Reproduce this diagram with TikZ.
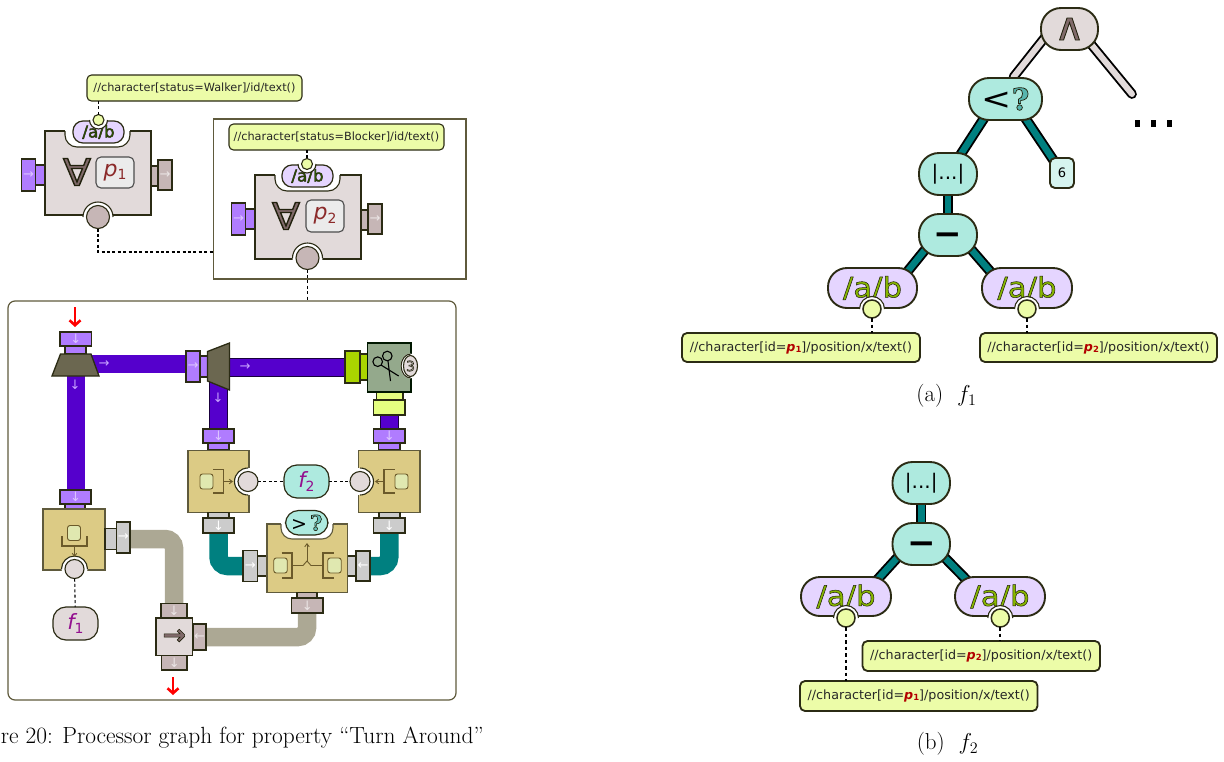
\RequirePackage{fix-cm}
\documentclass[tikz,border=0pt]{standalone}
\usepackage{fontspec}
\usepackage{graphicx}
\usetikzlibrary{calc,backgrounds,arrows.meta,shapes.geometric}
\newfontfamily\dv{DejaVu Sans}
\newfontfamily\dvserif{DejaVu Serif}
\definecolor{cedge}{HTML}{2B2B14}
\definecolor{cframe}{HTML}{5F5A3C}
\definecolor{cgray}{HTML}{E2DADA}
\definecolor{cbrown}{HTML}{C6B6B6}
\definecolor{cport}{HTML}{B07CFF}
\definecolor{cpipe}{HTML}{5500CC}
\definecolor{cteal}{HTML}{008080}
\definecolor{ctaupe}{HTML}{ACA894}
\definecolor{ctan}{HTML}{DCCB85}
\definecolor{csil}{HTML}{CCCCCC}
\definecolor{cpill}{HTML}{AEEADF}
\definecolor{clav}{HTML}{E5D5FF}
\definecolor{cyel}{HTML}{ECFCA8}
\definecolor{cyel2}{HTML}{E5FF80}
\definecolor{clime}{HTML}{AAD400}
\definecolor{csage}{HTML}{94A98C}
\definecolor{ctrap}{HTML}{6B6750}
\definecolor{cbr}{HTML}{6B5A2A}
\definecolor{cfn}{HTML}{93108F}
\definecolor{cpv}{HTML}{8B2A2A}
\definecolor{cbrd}{HTML}{806A6A}
\definecolor{cab}{HTML}{88B800}
\definecolor{cabs}{HTML}{2F5F00}
\definecolor{cqq}{HTML}{E0E8B0}
\newcommand{\fsz}[1]{\fontsize{#1}{#1}\selectfont}
\newcommand{\outl}[3]{{\color{#2}\special{pdf:code 2 Tr #3 w 0.13 0.13 0.05 RG}#1\special{pdf:code 0 Tr}}}
\newcommand{\rn}[7][]{\node[rectn,#1,minimum width={(#5)-(#3)},minimum height={(#6)-(#4)}] (#2) at ({(#3+#5)/2},{(#4+#6)/2}) {#7};}
\newcommand{\halo}[5]{\fill[white] (#1,#2) circle (#3+3.5);\draw[edgeline] ($(#1,#2)+(#4:#3+3.5)$) arc (#4:#5:#3+3.5);}
\newcommand{\pv}[1]{{\bfseries\itshape\color{red!70!black}p\raisebox{-0.2ex}{\fsz{8.5}\upshape#1}}}
\newcommand{\sab}{\scalebox{1.05}[1]{\outl{\dv\fsz{16}/a/b}{cabs}{0.4}}}
\newcommand{\bab}{\scalebox{1.1}[1]{\outl{\dv\fsz{28}/a/b}{cab}{0.5}}}
\newcommand{\fa}{\scalebox{1.1}[1]{\outl{∀}{cbrd}{1.3}}}
\newcommand{\minusglyph}{\raisebox{-10.6pt}[0pt][0pt]{\dv\bfseries\fsz{34}−}}
\tikzset{
 rectn/.style={rectangle,inner sep=0pt,outer sep=0pt,draw=cedge,line width=1.1pt,font=\dv},
 edgeline/.style={draw=cedge,line width=1.1pt},
 gport/.style={fill=cgray},
 pport/.style={fill=cport,text=cport!45!white,font=\dv\fsz{13}},
 bport/.style={fill=cbrown,text=cbrown!35!white,font=\dv\fsz{13}},
 sport/.style={fill=csil,text=white,font=\dv\fsz{13}},
 lport/.style={fill=clime,text=white,font=\dv\fsz{13}},
 yport/.style={fill=cyel2},
 tanbox/.style={fill=ctan,draw=cframe},
 grayb/.style={fill=cgray},
 xq/.style={fill=cyel,rounded corners=4.5pt,line width=1.1pt,font=\dv\fsz{11.3},text=black!85},
 xqb/.style={fill=cyel,rounded corners=5pt,line width=1.8pt,font=\dv\fsz{12.7},text=black!85},
 pill/.style={fill=cpill,rounded corners=13pt,line width=1.2pt},
 bigpill/.style={fill=cpill,rounded corners=20pt,line width=1.9pt},
 lavpill/.style={fill=clav,rounded corners=10pt,line width=1.2pt},
 lavbig/.style={fill=clav,rounded corners=19pt,line width=1.9pt},
 dashl/.style={draw=black,line width=1.05pt,dash pattern=on 3pt off 2.4pt},
 dashb/.style={draw=black,line width=1.7pt,dash pattern=on 3.5pt off 3pt},
 pipep/.style={draw=cpipe,line width=18pt},
 piped/.style={draw=black!70!cpipe,line width=1pt,double=cpipe,double distance=17pt},
 pipet/.style={draw=cteal,line width=18.5pt,rounded corners=9pt},
 pipeg/.style={draw=ctaupe,line width=18.5pt,rounded corners=9pt},
 tedge/.style={draw=black,line width=1.9pt,double=cteal,double distance=6.5pt},
 gedge/.style={draw=black,line width=1.9pt,double=cgray,double distance=6pt,line cap=round},
 sym/.style={draw=cbr,line width=1.5pt},
 syma/.style={draw=cbr,line width=.9pt,-{Straight Barb[length=3pt,width=4.5pt]}},
 symq/.style={rectn,fill=cqq,draw=cbr,rounded corners=2.5pt,line width=.9pt},
 red arr/.style={draw=red,line width=2.6pt,-{Straight Barb[length=5pt,width=11pt]}},
 parrow/.style={font=\dv\fsz{13},inner sep=0pt,text=cport!70!white},
}
\begin{document}
\begin{tikzpicture}[x=1pt,y=-1pt]
\useasboundingbox (0,0) rectangle (1224,761);
% frames
\rn[draw=cframe,line width=1.2pt]{framea}{213.5}{119}{466}{279}{}
\rn[draw=cframe,line width=1.2pt,rounded corners=7pt]{frameb}{8}{301}{456}{700}{}
% ---------- processor p1
\rn[gport,fill=cport]{pa1}{35.5}{165}{45}{185}{}
\rn[pport]{pa2}{21.5}{159}{35.5}{191}{→}
\rn[bport]{pa3}{151}{166}{158}{186}{}
\rn[bport]{pa4}{158}{160}{172}{190}{→}
\rn[grayb]{pbox}{45}{131}{151}{215}{}
\fill[white,rounded corners=12pt] (65,125) rectangle (130,147);
\fill[white] (65,125) rectangle (130,133);
\draw[edgeline,rounded corners=12pt] (65,131) -- (65,147) -- (130,147) -- (130,131);
\rn[lavpill]{xa}{73}{121}{124}{143}{\sab}
\halo{98.5}{120}{5.5}{0}{180}
\node[rectn,circle,fill=cyel,minimum size=11pt] (xac) at (98.5,120) {};
\halo{98}{217}{11.5}{180}{360}
\node[rectn,circle,fill=cbrown,minimum size=23pt] (pac) at (98,217) {};
\node[font=\dv\fsz{37},inner sep=0pt] (alla) at (77,172) {\fa};
\rn[fill=white!92!black,draw=black!70,rounded corners=5pt]{pa}{96}{157}{134}{188}{\color{cpv}\dv\fsz{22}\itshape p\raisebox{-0.3ex}{\fsz{14}\upshape 1}}
\rn[xq]{qa}{87}{75}{302}{101}{//character[status=Walker]/id/text()}
\draw[dashl] (qa.south -| xac) -- (xac);
% ---------- processor p2
\rn[fill=cport]{pb1}{245.5}{209}{255}{229}{}
\rn[pport]{pb2}{231.5}{203}{245.5}{235}{→}
\rn[bport]{pb3}{361}{210}{368}{230}{}
\rn[bport]{pb4}{368}{204}{382}{234}{→}
\rn[grayb]{qbox}{255}{175}{361}{259}{}
\fill[white,rounded corners=12pt] (275,169) rectangle (340,191);
\fill[white] (275,169) rectangle (340,177);
\draw[edgeline,rounded corners=12pt] (275,175) -- (275,191) -- (340,191) -- (340,175);
\rn[lavpill]{xb}{282}{165}{333}{187}{\sab}
\halo{307}{164}{5.5}{0}{180}
\node[rectn,circle,fill=cyel,minimum size=11pt] (xbc) at (307,164) {};
\halo{307.5}{258}{11.5}{180}{360}
\node[rectn,circle,fill=cbrown,minimum size=23pt] (pbc) at (307.5,258) {};
\node[font=\dv\fsz{37},inner sep=0pt] (allb) at (286,216) {\fa};
\rn[fill=white!92!black,draw=black!70,rounded corners=5pt]{pb}{306}{200}{344}{232}{\color{cpv}\dv\fsz{22}\itshape p\raisebox{-0.3ex}{\fsz{14}\upshape 2}}
\rn[xq]{qb}{229}{124}{444}{150}{//character[status=Blocker]/id/text()}
\draw[dashl] (qb.south -| xbc) -- (xbc);
\draw[dashl] (pac) |- (framea.west |- 0,252);
\draw[dashl] (pbc) -- (pbc |- frameb.north);
% ---------- split 1
\coordinate (reda) at (75,307);
\coordinate (redd) at (75,327);
\rn[fill=cport]{s1b}{65}{346}{86}{354}{}
\rn[pport]{s1a}{60}{332}{91.5}{346}{↓}
\draw[edgeline,line width=1.3pt,fill=ctrap] (60.5,354) -- (91,354) -- (99,376) -- (52,376) -- cycle;
\coordinate (s1) at (75.5,365);
\draw[red arr] (reda) -- (redd);
% ---------- split 2
\rn[fill=cport]{s2b}{200}{356}{208}{377}{}
\rn[pport]{s2a}{186}{351}{200}{382}{→}
\draw[edgeline,line width=1.3pt,fill=ctrap] (207.5,351.5) -- (229.5,343) -- (229.5,390) -- (207.5,381) -- cycle;
\coordinate (s2) at (218,366);
% ---------- scissors
\rn[fill=clime]{ca}{360}{354}{368}{380}{}
\rn[lport]{cb}{345}{351}{360}{383}{}
\rn[yport]{cc}{376.5}{392}{403}{400}{}
\rn[yport]{cd}{373.5}{400}{405}{415}{}
\rn[fill=csage,draw=black!70!green!30!black]{cut}{367.5}{343}{411}{392}{}
\fill[white] (410,366) ellipse (9.5 and 12.5);
\draw[edgeline] (410.6,354) arc (-90:-270:9.5 and 12) ;
\fill[white] (411.6,350) rectangle (420,382);
\node[rectn,ellipse,fill=cgray,minimum width=14pt,minimum height=21pt] (cutn) at (410.5,366) {};
\node[font=\dv\fsz{14},inner sep=0pt] at (cutn) {\outl{3}{cgray}{0.55}};
\draw[line width=1.1pt,black] (377.7,361.7) circle (4.8) (387.3,356) circle (4.8);
\draw[line width=1.1pt,black] (388,361) -- (390.5,381) (381,365) -- (398.7,376);
% ---------- left tan
\rn[fill=cport]{ta}{65}{504}{85}{509}{}
\rn[pport]{tb}{60}{490}{91}{504}{↓}
\rn[tanbox]{t1}{43}{509}{105}{570}{}
\rn[sport]{tc}{105}{528.5}{116.5}{549.5}{}
\rn[sport]{td}{116.5}{522}{130}{553}{→}
\halo{74.5}{569}{9.5}{180}{360}
\node[rectn,circle,fill=cgray,minimum size=19pt] (t1c) at (74.5,569) {};
\node[symq,minimum width=13pt,minimum height=15pt] (t1q) at (74,533) {};
\draw[sym] (62,536) -- (62,546) -- (87,546) -- (87,536);
\draw[syma] (74.5,546) -- (74.5,557);
\rn[fill=cgray,rounded corners=13pt,line width=1.2pt]{f1}{53}{607}{98}{640}{\color{cfn}\dv\fsz{21}\itshape f\raisebox{-0.3ex}{\fsz{14}\upshape 1}}
\draw[dashl] (t1c) -- (f1);
% ---------- left middle tan
\rn[fill=cport]{ua}{208}{443}{229}{450}{}
\rn[pport]{ub}{203}{429}{234}{443}{↓}
\rn[tanbox]{t2}{188}{450.5}{249}{512.5}{}
\rn[sport]{uc}{208}{512.5}{229}{518}{}
\rn[sport]{ud}{203}{518}{234}{533}{↓}
\halo{248}{481.5}{10}{90}{270}
\node[rectn,circle,fill=cgray,minimum size=20pt] (t2c) at (248,481.5) {};
\node[symq,minimum width=13pt,minimum height=15pt] (t2q) at (206.5,481.5) {};
\draw[sym] (213,469.5) -- (223.5,469.5) -- (223.5,493) -- (213,493);
\draw[syma] (223.5,481.5) -- (233,481.5);
% ---------- right tan
\rn[fill=cport]{va}{378.5}{443}{400}{450}{}
\rn[pport]{vb}{373.5}{429}{405}{443}{↓}
\rn[tanbox]{t3}{358.5}{450.5}{420}{512.5}{}
\rn[sport]{vc}{379}{512.5}{400}{518}{}
\rn[sport]{vd}{373.5}{518}{405}{533}{↓}
\halo{360}{481.5}{10}{-90}{90}
\node[rectn,circle,fill=cgray,minimum size=20pt] (t3c) at (360,481.5) {};
\node[symq,minimum width=13pt,minimum height=15pt] (t3q) at (401.5,481.5) {};
\draw[sym] (394.5,469.5) -- (384,469.5) -- (384,493) -- (394.5,493);
\draw[syma] (384,481.5) -- (375,481.5);
\rn[pill]{f2}{284}{465}{329}{498}{\color{cfn}\dv\fsz{21}\itshape f\raisebox{-0.3ex}{\fsz{14}\upshape 2}}
\draw[dashl] (t2c) -- (f2);
\draw[dashl] (f2) -- (t3c);
% ---------- compare tan
\rn[sport]{wa}{257.5}{556}{267}{576}{}
\rn[sport]{wb}{243}{550.5}{257.5}{581.5}{→}
\rn[sport]{wc}{347.5}{556}{356}{576}{}
\rn[sport]{wd}{356}{551}{370}{581}{←}
\rn[tanbox]{t4}{267}{524}{347.5}{592.5}{}
\fill[white] (281,520) rectangle (333,530);
\fill[white,rounded corners=11pt] (281,518) rectangle (333,539);
\draw[edgeline,rounded corners=11pt,draw=cframe] (281,524) -- (281,539) -- (333,539) -- (333,524);
\rn[pill]{cmp}{285.5}{510.5}{328}{535}{\dv\fsz{19}>\,\outl{\dvserif\bfseries\fsz{21}?}{cpill!60!cteal}{0.6}}
\node[symq,minimum width=13.5pt,minimum height=15pt] (t4l) at (280.5,565.5) {};
\node[symq,minimum width=13.5pt,minimum height=15pt] (t4r) at (334.5,565.5) {};
\draw[sym] (281.5,553) -- (292,553) -- (292,578) -- (281.5,578);
\draw[sym] (333.5,553) -- (323,553) -- (323,578) -- (333.5,578);
\draw[draw=cbr,line width=.9pt] (292,565.5) -- (303,565.5) -- (307,561) -- (311,565.5) -- (323,565.5);
\draw[syma] (307,561) -- (307,543);
\rn[bport]{wf}{297}{592.5}{317}{598}{}
\rn[bport]{wg}{291.5}{598}{323}{613}{↓}
% ---------- merge
\rn[bport]{ma}{161}{603.5}{187}{618}{↓}
\rn[bport]{mb}{193}{624}{206}{650}{←}
\rn[bport]{mc}{161.5}{655.5}{187}{670}{↓}
\rn[grayb]{m}{156}{618}{192.5}{655.5}{\outl{\bfseries\fsz{28}→}{cbrd}{0.6}}
\coordinate (redb) at (173,695);
\coordinate (redc) at (173,677);
\draw[red arr] (redc) -- (redb);
% ---------- pipes
\begin{scope}[on background layer]
\draw[pipep] (s1) -- (s1 |- tb.north);
\draw[pipep] (92,364) -- (s2a.west |- 92,364);
\draw[piped] (s2) -- (s2 |- ub.north);
\draw[piped] (229,367.5) -- (cb.west |- 229,367.5);
\draw[piped] (vb.north) -- (cd.south -| vb.north);
\draw[pipet] (ud.south) |- (wb.west);
\draw[pipet] (vd.south) |- (wd.east);
\draw[pipeg] (td.east |- 0,539) -| (ma.north);
\draw[pipeg] (wg.south -| 307,0) |- (mb.east);
\end{scope}
\foreach \nn/\xx/\yy/\tt in {a/75/385/↓,b/104/364/→,c/218/398/↓,d/245/367/→}{
 \node[parrow] (pa\nn) at (\xx,\yy) {\tt};}
% ---------- tree f1
\rn[fill=cgray,rounded corners=20pt,line width=1.9pt]{andn}{1041}{8}{1098}{50}{\scalebox{1.1}[1]{\outl{\dv\fsz{38}∧}{cbrd}{0.8}}}
\rn[bigpill]{lt}{969}{78}{1042}{120}{\dv\fsz{30}\scalebox{1.2}[1]{<}\outl{\dvserif\bfseries\fsz{30}?}{cpill!50!cteal}{0.7}}
\rn[bigpill]{absa}{919}{153}{977}{195}{\dv\fsz{20}|...|}
\rn[fill=cpill!50!white,rounded corners=5pt,line width=1.9pt]{six}{1050}{158}{1074}{188}{\dv\fsz{13}6}
\rn[bigpill]{mina}{919}{214}{977}{256}{\minusglyph}
\rn[lavbig]{aba}{828}{268}{917}{308}{\bab}
\rn[lavbig]{abb}{982}{268}{1072}{308}{\bab}
\halo{872}{309}{9}{0}{-180}
\node[rectn,circle,fill=cyel,minimum size=18pt,line width=1.5pt] (abac) at (872,309) {};
\halo{1027}{309}{9}{0}{-180}
\node[rectn,circle,fill=cyel,minimum size=18pt,line width=1.5pt] (abbc) at (1027,309) {};
\rn[xqb]{qc}{682}{333}{920}{362}{//character[id=\pv{1}]/position/x/text()}
\rn[xqb]{qd}{980}{333}{1217}{362}{//character[id=\pv{2}]/position/x/text()}
\draw[dashb] (abac) -- (abac |- qc.north);
\draw[dashb] (abbc) -- (abbc |- qd.north);
\coordinate (anddots) at (1132,94);
\begin{scope}[on background layer]
\draw[gedge] ($(andn.center)+(-18,0)$) -- ($(lt.center)+(8,-22)$);
\draw[gedge] ($(andn.center)+(9,0)$) -- (anddots);
\draw[tedge] ($(lt.center)+(-9,0)$) -- (absa.center);
\draw[tedge] ($(lt.center)+(7,0)$) -- (six.center);
\draw[tedge] (absa) -- (mina);
\draw[tedge] ($(mina.center)+(-15,5)$) -- ($(aba.center)+(24,-3)$);
\draw[tedge] ($(mina.center)+(15,5)$) -- ($(abb.center)+(-25,-3)$);
\end{scope}
\foreach \dx in {1137.5,1153.5,1169.5}{\fill[black] (\dx-2.8,120) rectangle (\dx+2.8,126.5);}
\node[font=\fsz{23},inner sep=0pt] (capa) at (946.5,396) {(a)\ \ $f_1$};
% ---------- tree f2
\rn[bigpill]{absb}{892.5}{462}{950}{504}{\dv\fsz{20}|...|}
\rn[bigpill]{minb}{892.5}{523}{950}{565}{\minusglyph}
\rn[lavbig]{abc}{801}{577}{891}{616}{\bab}
\rn[lavbig]{abd}{955}{577}{1045}{616}{\bab}
\halo{846}{618}{9}{0}{-180}
\node[rectn,circle,fill=cyel,minimum size=18pt,line width=1.5pt] (abcc) at (846,618) {};
\halo{1000.3}{618}{9}{0}{-180}
\node[rectn,circle,fill=cyel,minimum size=18pt,line width=1.5pt] (abdc) at (1000.3,618) {};
\rn[xqb]{qe}{800}{681}{1037.5}{711}{//character[id=\pv{1}]/position/x/text()}
\rn[xqb]{qf}{862.5}{641}{1100}{671}{//character[id=\pv{2}]/position/x/text()}
\draw[dashb] (abcc) -- (abcc |- qe.north);
\draw[dashb] (abdc) -- (abdc |- qf.north);
\begin{scope}[on background layer]
\draw[tedge] (absb) -- (minb);
\draw[tedge] ($(minb.center)+(-16,5)$) -- ($(abc.center)+(26,-11)$);
\draw[tedge] ($(minb.center)+(15,5)$) -- ($(abd.center)+(-24,-7)$);
\end{scope}
\node[font=\fsz{23},inner sep=0pt] (capb) at (947.5,744) {(b)\ \ $f_2$};
\node[font=\fsz{23.4},inner sep=0pt,anchor=east] (capc) at (484,738) {re 20: Processor graph for property “Turn Around”};
\end{tikzpicture}
\end{document}
